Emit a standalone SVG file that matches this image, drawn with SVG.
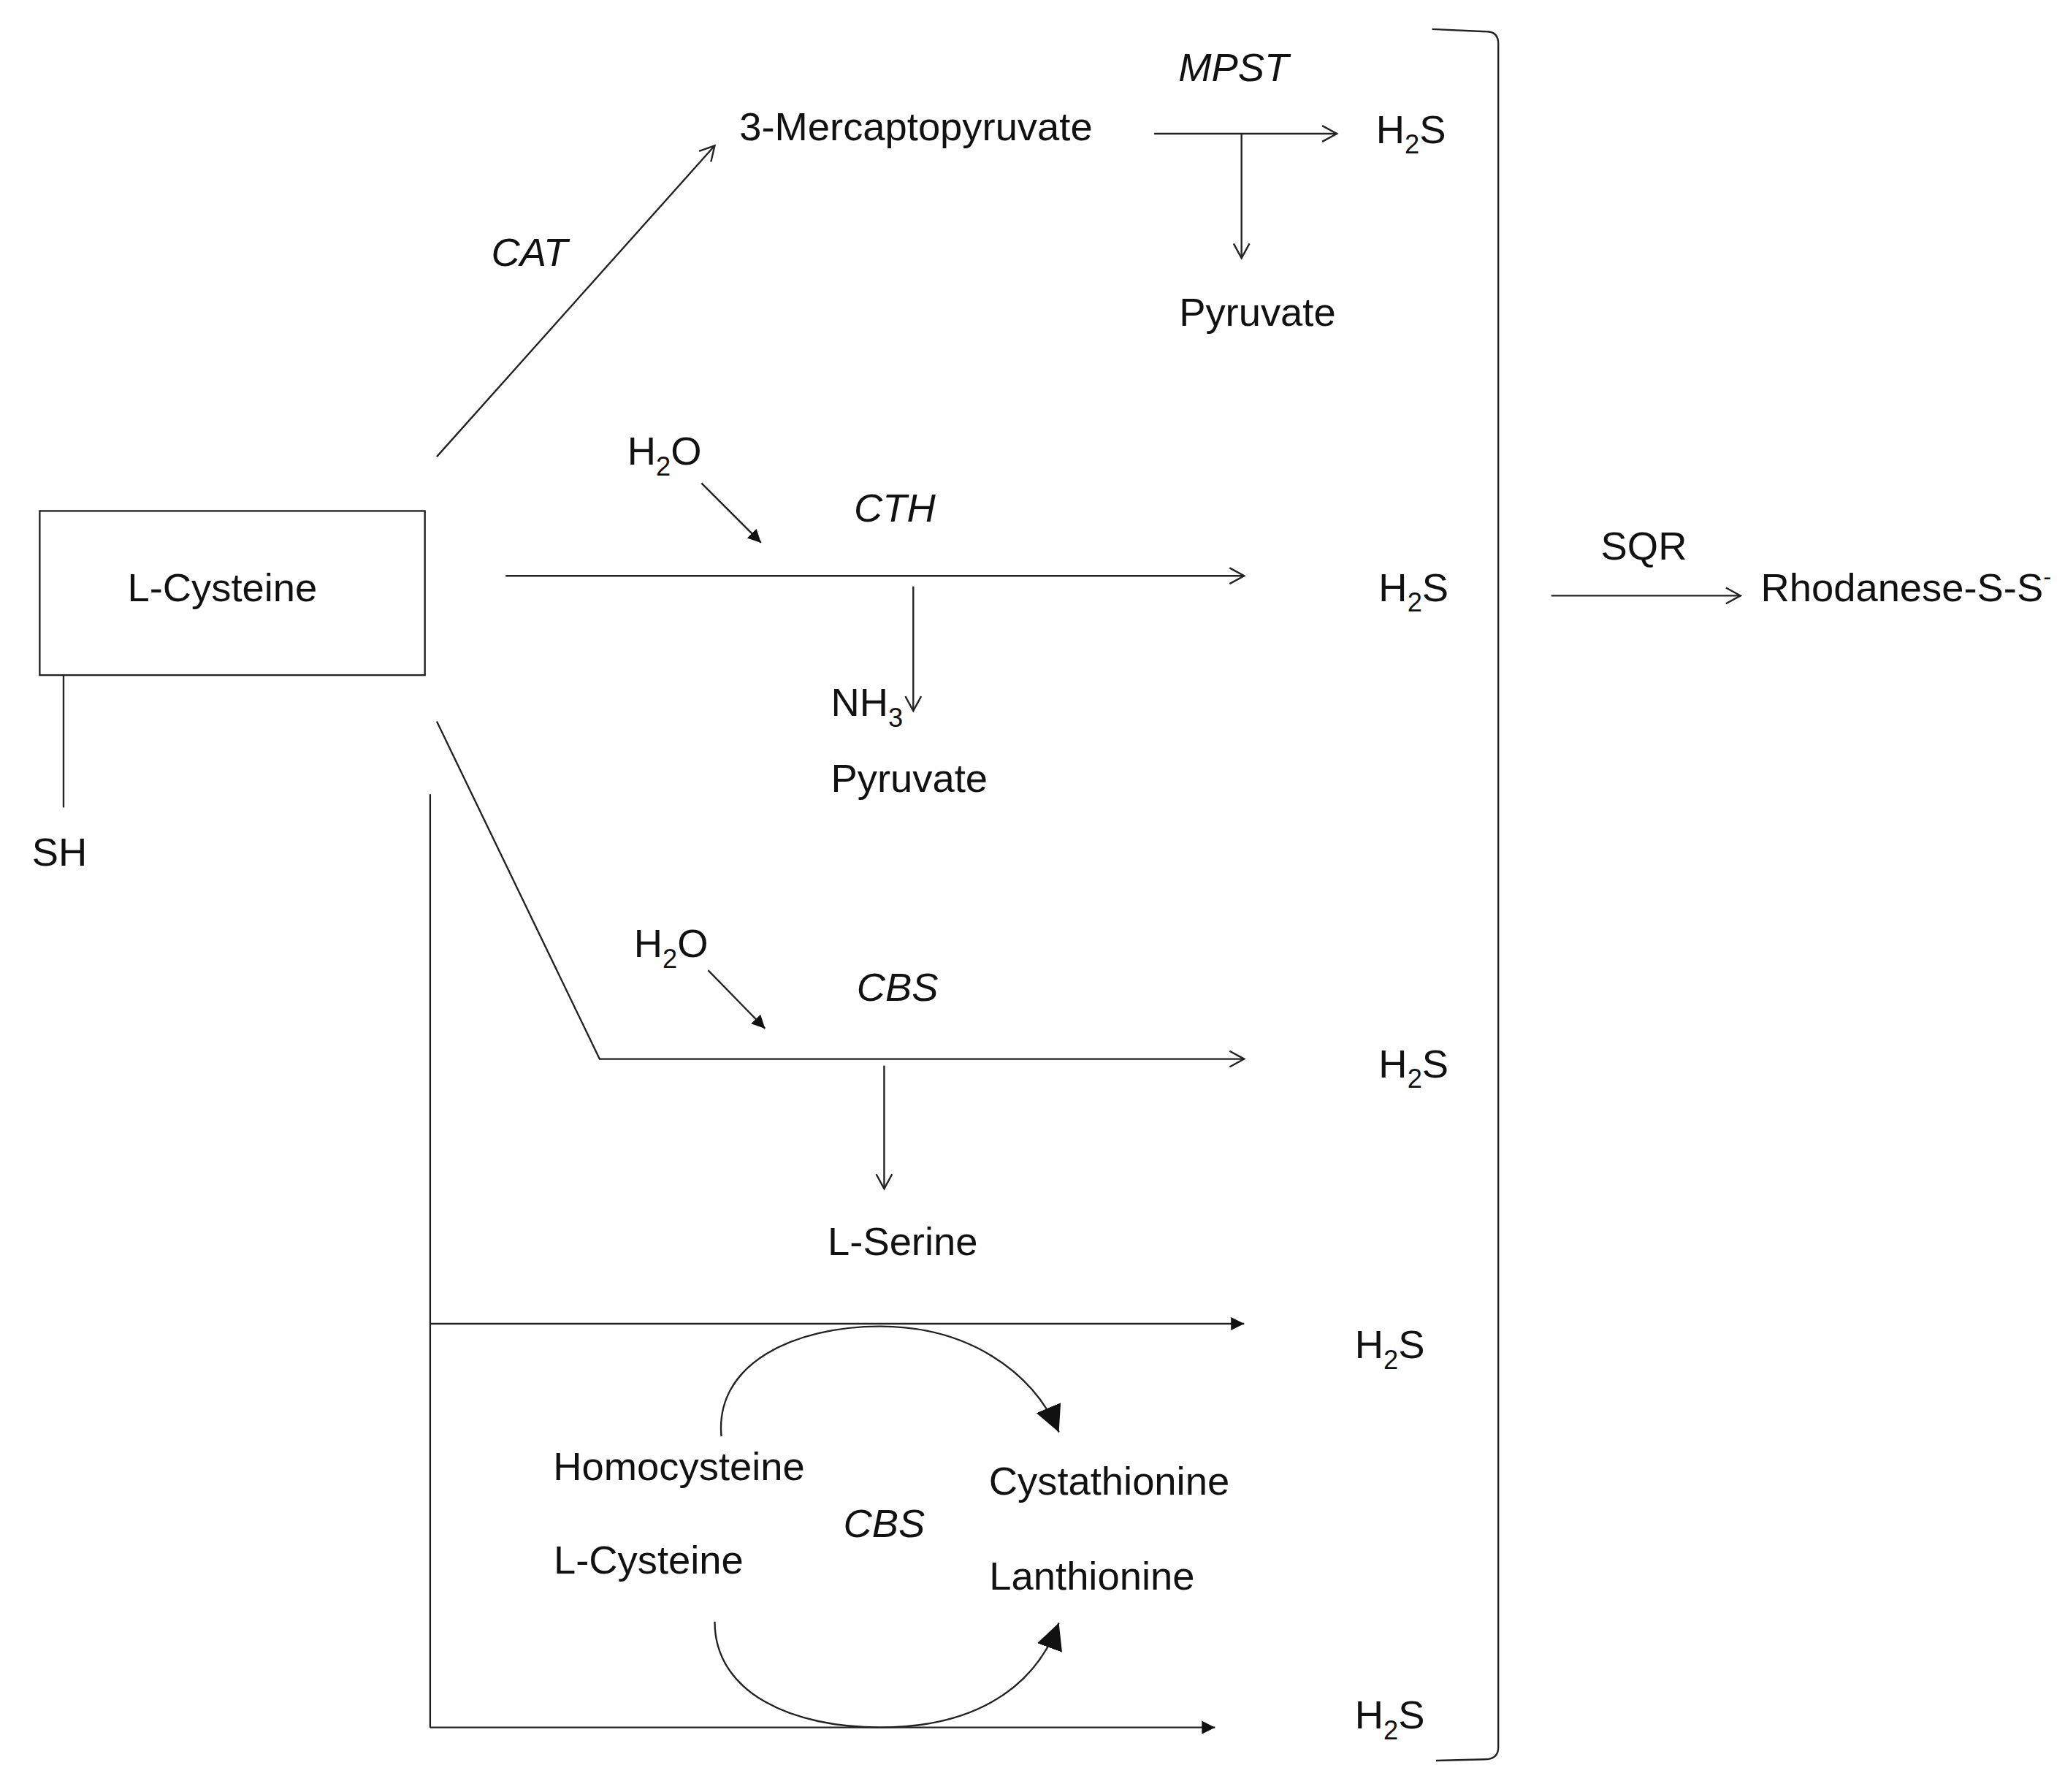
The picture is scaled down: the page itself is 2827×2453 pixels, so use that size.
<svg xmlns="http://www.w3.org/2000/svg" width="2827" height="2453" viewBox="0 0 2827 2453">
<defs>
<marker id="open" markerWidth="14" markerHeight="14" refX="12" refY="7" orient="auto" markerUnits="userSpaceOnUse"><path d="M1,1 L12,7 L1,13" fill="none" stroke="#222" stroke-width="1.3"/></marker>
<marker id="fill" markerWidth="12" markerHeight="12" refX="10" refY="6" orient="auto" markerUnits="userSpaceOnUse"><path d="M0,1 L10,6 L0,11 Z" fill="#111"/></marker>
<marker id="big" markerWidth="24" markerHeight="24" refX="20" refY="12" orient="auto" markerUnits="userSpaceOnUse"><path d="M0,2 L20,12 L0,22 Z" fill="#111"/></marker>
<style>
text{font-family:"Liberation Sans",Arial,sans-serif;font-size:30px;fill:#111;text-anchor:middle}
.i{font-style:italic}
.l{fill:none;stroke:#222;stroke-width:1.3}
</style>
</defs>
<rect width="2827" height="2453" fill="#fff"/>
<g transform="scale(1.812)">
<g id="connectors">
<line class="l" x1="48" y1="510" x2="48" y2="610"/>
<line class="l" x1="330" y1="345" x2="540" y2="110" marker-end="url(#open)"/>
<line class="l" x1="872" y1="101" x2="1010" y2="101" marker-end="url(#open)"/>
<line class="l" x1="938" y1="101" x2="938" y2="195" marker-end="url(#open)"/>
<line class="l" x1="382" y1="435" x2="940" y2="435" marker-end="url(#open)"/>
<line class="l" x1="530" y1="365" x2="575" y2="410" marker-end="url(#fill)"/>
<line class="l" x1="690" y1="443" x2="690" y2="537" marker-end="url(#open)"/>
<polyline class="l" points="330,545 453,800 940,800" marker-end="url(#open)"/>
<line class="l" x1="535" y1="733" x2="578" y2="777" marker-end="url(#fill)"/>
<line class="l" x1="668" y1="805" x2="668" y2="898" marker-end="url(#open)"/>
<line class="l" x1="325" y1="600" x2="325" y2="1305"/>
<line class="l" x1="325" y1="1000" x2="940" y2="1000" marker-end="url(#fill)"/>
<line class="l" x1="325" y1="1305" x2="918" y2="1305" marker-end="url(#fill)"/>
<path class="l" d="M545,1085 C540,1030 600,1002 665,1002 C730,1002 780,1035 800,1082" marker-end="url(#big)"/>
<path class="l" d="M540,1225 C540,1280 600,1305 665,1305 C730,1305 780,1280 800,1226" marker-end="url(#big)"/>
<path class="l" d="M1082,22 L1125,24 Q1132,25 1132,33 L1132,1320 Q1132,1328 1124,1329 L1085,1330"/>
<line class="l" x1="1172" y1="450" x2="1315" y2="450" marker-end="url(#open)"/>
</g>
<g id="lcys"><rect x="30" y="386" width="291" height="124" fill="#fff" stroke="#222" stroke-width="1.3"/><text x="168" y="454">L-Cysteine</text></g>
<g id="sh"><text x="45" y="654">SH</text></g>
<g id="cat"><text class="i" x="400" y="201">CAT</text></g>
<g id="mp"><text x="692" y="106">3-Mercaptopyruvate</text></g>
<g id="mpst"><text class="i" x="932" y="61">MPST</text></g>
<g id="h2s1"><text x="1066" y="108">H<tspan font-size="20" dy="8">2</tspan><tspan dy="-8">S</tspan></text></g>
<g id="pyr1"><text x="950" y="246">Pyruvate</text></g>
<g id="h2o1"><text x="502" y="351">H<tspan font-size="20" dy="8">2</tspan><tspan dy="-8">O</tspan></text></g>
<g id="cth"><text class="i" x="676" y="394">CTH</text></g>
<g id="h2s2"><text x="1068" y="454">H<tspan font-size="20" dy="8">2</tspan><tspan dy="-8">S</tspan></text></g>
<g id="nh3"><text x="655" y="541">NH<tspan font-size="20" dy="8">3</tspan></text></g>
<g id="pyr2"><text x="687" y="598">Pyruvate</text></g>
<g id="h2o2"><text x="507" y="723">H<tspan font-size="20" dy="8">2</tspan><tspan dy="-8">O</tspan></text></g>
<g id="cbs1"><text class="i" x="678" y="756">CBS</text></g>
<g id="h2s3"><text x="1068" y="814">H<tspan font-size="20" dy="8">2</tspan><tspan dy="-8">S</tspan></text></g>
<g id="ser"><text x="682" y="948">L-Serine</text></g>
<g id="h2s4"><text x="1050" y="1026">H<tspan font-size="20" dy="8">2</tspan><tspan dy="-8">S</tspan></text></g>
<g id="hcy"><text x="513" y="1118">Homocysteine</text></g>
<g id="lcys2"><text x="490" y="1189">L-Cysteine</text></g>
<g id="cbs2"><text class="i" x="668" y="1161">CBS</text></g>
<g id="cysta"><text x="838" y="1129">Cystathionine</text></g>
<g id="lan"><text x="825" y="1201">Lanthionine</text></g>
<g id="h2s5"><text x="1050" y="1306">H<tspan font-size="20" dy="8">2</tspan><tspan dy="-8">S</tspan></text></g>
<g id="sqr"><text x="1242" y="423">SQR</text></g>
<g id="rho"><text x="1440" y="454">Rhodanese-S-S<tspan font-size="18" dy="-12">-</tspan></text></g>
</g>
</svg>
